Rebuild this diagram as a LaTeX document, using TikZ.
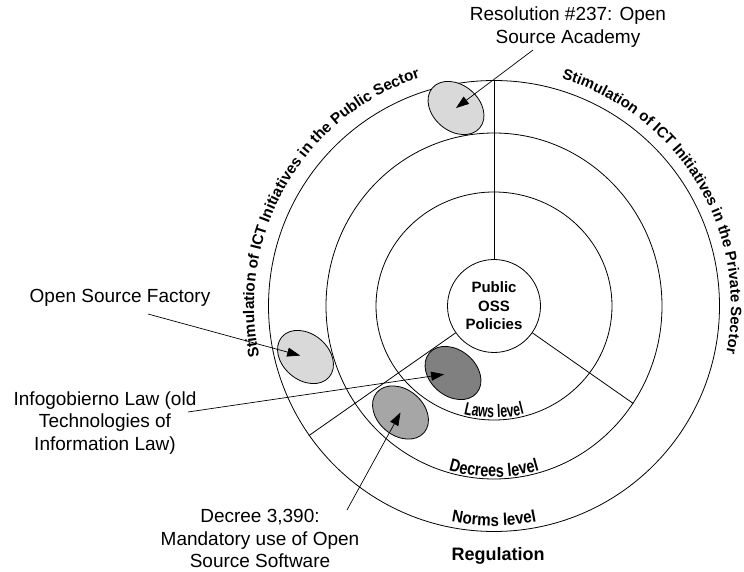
\documentclass[tikz,border=0pt]{standalone}
\usepackage{fontspec}
\setmainfont{Liberation Sans}
\newfontfamily\narrowA{Liberation Sans}[FakeStretch=0.68]
\newfontfamily\narrowB{Liberation Sans}[FakeStretch=0.8]
\newfontfamily\narrowC{Liberation Sans}[FakeStretch=0.89]
\usetikzlibrary{shapes.geometric,arrows.meta,decorations.text,calc}
\definecolor{lightg}{HTML}{D9D9D9}
\definecolor{midg}{HTML}{A6A6A6}
\definecolor{darkg}{HTML}{808080}
\tikzset{
  ring/.style={draw, line width=0.8pt, inner sep=0pt},
  blob/.style={ellipse, draw, line width=0.8pt, minimum width=62pt, minimum height=46pt, inner sep=0pt, rotate=-40},
  ptr/.style={-{Triangle[length=13pt,width=9pt]}, line width=0.7pt},
  radial/.style={line width=0.8pt},
  callout/.style={align=center, font=\fontsize{19}{22.5}\selectfont, inner sep=0pt, anchor=base},
}
\begin{document}
\begin{tikzpicture}[x=1pt,y=1pt]
\useasboundingbox (0,0) rectangle (744,571);
\coordinate (C) at (494,265);
% rings
\node[ring, circle, minimum size=451pt] (outer) at (C) {};
\node[ring, ellipse, minimum width=336pt, minimum height=346pt] (second) at (C) {};
\node[ring, ellipse, minimum width=236pt, minimum height=228pt] (third) at (C) {};
\node[ring, circle, fill=white, minimum size=93pt, align=center,
      font=\bfseries\fontsize{15}{18.5}\selectfont] (core) at (C) {Public\\OSS\\Policies};
% radial lines
\draw[radial] (core.90) -- (outer.90);
\draw[radial] (core.215) -- (outer.215);
\draw[radial] (core.325) -- (second.325);
% level labels
\path[decorate, decoration={text along path, text align=center,
  text={|\narrowA\bfseries\fontsize{18}{20}\selectfont|Laws level}}]
  ([shift={(235:116pt and 112pt)}]C) arc[start angle=235, end angle=305, x radius=116pt, y radius=112pt];
\path[decorate, decoration={text along path, text align=center,
  text={|\narrowB\bfseries\fontsize{18}{20}\selectfont|Decrees level}}]
  ([shift={(240:166pt and 171pt)}]C) arc[start angle=240, end angle=300, x radius=166pt, y radius=171pt];
\path[decorate, decoration={text along path, text align=center,
  text={|\narrowC\bfseries\fontsize{17}{20}\selectfont|Norms level}}]
  ([shift={(245:220pt)}]C) arc[start angle=245, end angle=295, radius=220pt];
% curved sector labels
\path[decorate, decoration={text along path, text align=center,
  text={|\bfseries\fontsize{15.3}{18}\selectfont|Stimulation of ICT Initiatives in the Public Sector}}]
  ([shift={(207:240pt)}]C) arc[start angle=207, end angle=93, radius=240pt];
\path[decorate, decoration={text along path, text align=center,
  text={|\bfseries\fontsize{15}{18}\selectfont|Stimulation of ICT Initiatives in the Private Sector}}]
  ([shift={(86:237pt)}]C) arc[start angle=86, end angle=-24, radius=237pt];
% regulation
\node[font=\bfseries\fontsize{18}{20}\selectfont, inner sep=0pt, anchor=base] (reg) at (498,11) {Regulation};
% policy blobs
\node[blob, fill=lightg] (e1) at (456,463) {};
\node[blob, fill=lightg] (e2) at (305.5,214) {};
\node[blob, fill=darkg] (e3) at (453,198) {};
\node[blob, fill=midg] (e4) at (400.5,158.5) {};
% callouts (anchor = baseline of the last line)
\node[callout] (t1) at (568,527.5) {Resolution \#237: Open\\Source Academy};
\node[callout] (t2) at (120,269) {Open Source Factory};
\node[callout] (t3) at (105,121) {Infogobierno Law (old\\Technologies of\\Information Law)};
\node[callout] (t4) at (260,3.5) {Decree 3,390:\\Mandatory use of Open\\Source Software};
% arrows
\coordinate (a1) at (533,521);
\coordinate (a2) at (148,257);
\coordinate (a3) at (188,159);
\coordinate (a4) at (347,61);
\draw[ptr] (a1) -- (e1.center);
\draw[ptr, shorten >=5.5pt] (a2) -- (e2.center);
\draw[ptr, shorten >=9pt] (a3) -- (e3.center);
\draw[ptr] (a4) -- (e4.center);
\end{tikzpicture}
\end{document}
